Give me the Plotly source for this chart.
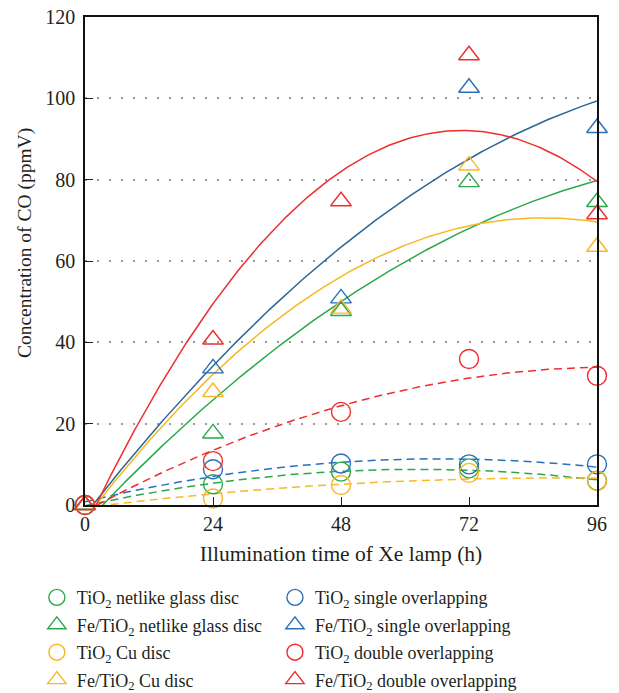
import numpy as np
import plotly.graph_objects as go

hours = [0, 24, 48, 72, 96]

names = [
    "TiO<sub>2</sub> netlike glass disc",
    "TiO<sub>2</sub> single overlapping",
    "Fe/TiO<sub>2</sub> netlike glass disc",
    "Fe/TiO<sub>2</sub> single overlapping",
    "TiO<sub>2</sub> Cu disc",
    "TiO<sub>2</sub> double overlapping",
    "Fe/TiO<sub>2</sub> Cu disc",
    "Fe/TiO<sub>2</sub> double overlapping",
]

tio2_glass = [0, 5.1, 8.2, 9.0, 6.0]
tio2_single = [0, 8.8, 10.2, 10.0, 10.0]
fe_glass = [0, 17.6, 47.7, 79.4, 74.5]
fe_single = [0, 33.6, 50.8, 102.6, 92.7]
tio2_cu = [0, 1.6, 4.9, 7.9, 5.9]
tio2_double = [0, 10.8, 22.9, 35.9, 31.8]
fe_cu = [0, 27.8, 48.3, 83.5, 63.5]
fe_double = [0, 40.7, 74.7, 110.6, 71.5]

series = [tio2_glass, tio2_single, fe_glass, fe_single, tio2_cu, tio2_double, fe_cu, fe_double]
symbols = ["circle-open", "circle-open", "triangle-up-open", "triangle-up-open",
           "circle-open", "circle-open", "triangle-up-open", "triangle-up-open"]
colors = ["#2aa84a", "#2a70b8", "#2aa84a", "#2a70b8", "#f7b824", "#ee2e2e", "#f7b824", "#ee2e2e"]
fit_colors = ["#2aa84a", "#2a70b8", "#2aa84a", "#2c6694", "#f7b824", "#ee2e2e", "#f7b824", "#ee2e2e"]
legends = ["legend", "legend2"] * 4

fig = go.Figure()

# quadratic least-squares trend lines (drawn first, below markers)
xs = np.linspace(0, 96, 200)
for i, ys in enumerate(series):
    coef = np.polyfit(hours, ys, 2)
    yfit = np.polyval(coef, xs)
    dash = "solid" if "triangle" in symbols[i] else "8px,5px"
    fig.add_trace(go.Scatter(x=xs, y=yfit, mode="lines", showlegend=False,
                             line=dict(color=fit_colors[i], width=1.5, dash=dash),
                             hoverinfo="skip"))

for i, ys in enumerate(series):
    size = 19 if "circle" in symbols[i] else 18
    fig.add_trace(go.Scatter(x=hours, y=ys, mode="markers", name=names[i],
                             legend=legends[i], legendgroup=f"g{i}",
                             cliponaxis=False,
                             marker=dict(symbol=symbols[i], size=size, color=colors[i],
                                         line=dict(width=1.4, color=colors[i]))))

font = "Liberation Serif"
fig.update_layout(
    width=619, height=693,
    margin=dict(l=85, r=22, t=17, b=188, autoexpand=False),
    plot_bgcolor="white", paper_bgcolor="white",
    font=dict(family=font, size=18, color="#231f20"),
    xaxis=dict(range=[0, 96], tickvals=[0, 24, 48, 72, 96], ticks="inside", ticklen=8,
               tickcolor="#222", showline=True, linecolor="#111", linewidth=1.5, mirror=True,
               showgrid=False, zeroline=False, tickfont=dict(family=font, size=20),
               title=dict(text="Illumination time of Xe lamp (h)", standoff=12,
                          font=dict(family=font, size=21.5))),
    yaxis=dict(range=[0, 120], tickvals=[0, 20, 40, 60, 80, 100, 120], ticks="inside", ticklen=8,
               tickcolor="#222", showline=True, linecolor="#111", linewidth=1.5, mirror=True,
               showgrid=True, gridcolor="#9a9a9a", gridwidth=1.5, griddash="2px,10px",
               zeroline=False, tickfont=dict(family=font, size=20), ticklabelstandoff=4),
    annotations=[dict(text="Concentration of CO (ppmV)", textangle=-90, showarrow=False,
                      xref="paper", yref="paper", x=-0.117, y=0.537,
                      xanchor="center", yanchor="middle",
                      font=dict(family=font, size=19.5))],
    legend=dict(x=-0.094, y=-0.152, xanchor="left", yanchor="top", orientation="v",
                font=dict(family=font, size=18), tracegroupgap=1, bgcolor="rgba(0,0,0,0)"),
    legend2=dict(x=0.371, y=-0.152, xanchor="left", yanchor="top", orientation="v",
                 font=dict(family=font, size=18), tracegroupgap=1, bgcolor="rgba(0,0,0,0)"),
)

fig.write_html("out.html")
